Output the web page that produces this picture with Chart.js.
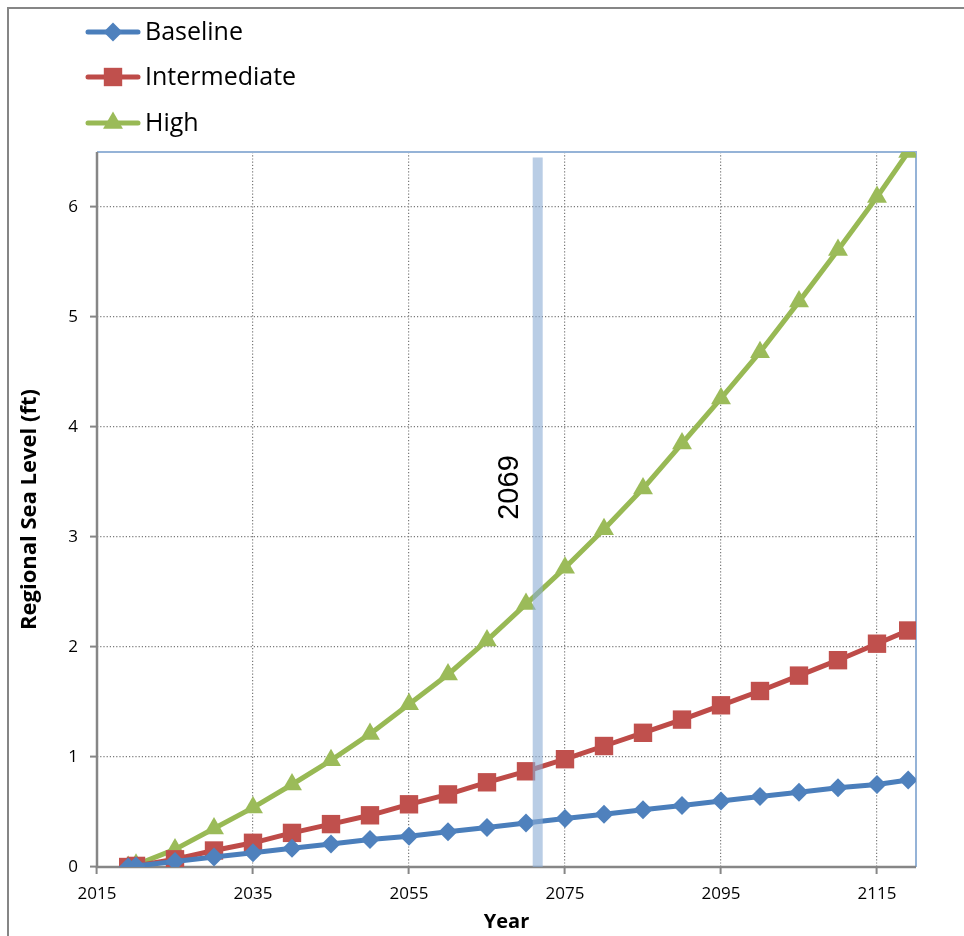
<!DOCTYPE html>
<html>
<head>
<meta charset="utf-8">
<script src="https://cdn.jsdelivr.net/npm/chart.js@4.4.1/dist/chart.umd.min.js"></script>
<style>
html,body{margin:0;padding:0;background:#fff;}
#wrap{position:relative;width:964px;height:936px;overflow:hidden;}
canvas{display:block;}
</style>
</head>
<body>
<div id="wrap"><canvas id="c" width="964" height="936"></canvas></div>
<script>
// ---- data ----
const years = [2019, 2020, 2025, 2030, 2035, 2040, 2045, 2050, 2055, 2060, 2065,
               2070, 2075, 2080, 2085, 2090, 2095, 2100, 2105, 2110, 2115, 2119];
const baselineValues = [0.00, 0.01, 0.05, 0.09, 0.13, 0.17, 0.21, 0.25, 0.28, 0.32, 0.36,
                        0.40, 0.44, 0.48, 0.52, 0.56, 0.60, 0.64, 0.68, 0.72, 0.75, 0.79];
const intermediateValues = [0.00, 0.01, 0.07, 0.15, 0.22, 0.31, 0.39, 0.47, 0.57, 0.66, 0.77,
                            0.87, 0.98, 1.10, 1.22, 1.34, 1.47, 1.60, 1.74, 1.88, 2.03, 2.15];
const highValues = [0.00, 0.02, 0.16, 0.35, 0.54, 0.75, 0.97, 1.21, 1.48, 1.75, 2.06,
                    2.39, 2.72, 3.07, 3.44, 3.85, 4.26, 4.68, 5.14, 5.61, 6.09, 6.50];
const seriesNames = ['Baseline', 'Intermediate', 'High'];
const xTickValues = [2015, 2035, 2055, 2075, 2095, 2115];
const yTickValues = [0, 1, 2, 3, 4, 5, 6];
const xRange = [2015, 2120];
const yRange = [0, 6.5];
const markerYear = 2071.5;
const markerTop = 6.45;
const markerLabel = '2069';
const markerLabelValue = 3.45;
const xTitle = 'Year';
const yTitle = 'Regional Sea Level (ft)';

// ---- styles ----
const lineColors = ['#4a7ebb', '#be4b48', '#98b954'];
const markColors = ['#4f81bd', '#c0504d', '#9bbb59'];
const markStyles = ['rectRot', 'rect', 'triangle'];
const markRadii = [9.5, 13, 11.5];
const FONT = "'Open Sans', 'Liberation Sans', sans-serif";

function toPoints(vals){ return years.map((x, i) => ({x: x, y: vals[i]})); }
const seriesValues = [baselineValues, intermediateValues, highValues];

const datasets = seriesValues.map((vals, i) => ({
  label: seriesNames[i],
  data: toPoints(vals),
  borderColor: lineColors[i],
  backgroundColor: markColors[i],
  borderWidth: 5,
  pointStyle: markStyles[i],
  pointRadius: markRadii[i],
  pointHoverRadius: markRadii[i],
  pointBackgroundColor: markColors[i],
  pointBorderColor: markColors[i],
  pointBorderWidth: 0,
  borderJoinStyle: 'round',
  borderCapStyle: 'round',
  tension: 0,
  fill: false
}));

function markerPath(ctx, style, x, y, r){
  ctx.beginPath();
  if (style === 'rect') {
    const s = Math.SQRT1_2 * r;
    ctx.rect(x - s, y - s, 2 * s, 2 * s);
  } else if (style === 'rectRot') {
    ctx.moveTo(x - r, y); ctx.lineTo(x, y - r); ctx.lineTo(x + r, y); ctx.lineTo(x, y + r);
    ctx.closePath();
  } else {
    const a = 2 * Math.PI / 3;
    ctx.moveTo(x, y - r);
    ctx.lineTo(x + Math.sin(a) * r, y - Math.cos(a) * r);
    ctx.lineTo(x + Math.sin(2 * a) * r, y - Math.cos(2 * a) * r);
    ctx.closePath();
  }
}

const decorPlugin = {
  id: 'decor',
  beforeDraw(chart){
    const ctx = chart.ctx;
    ctx.save();
    ctx.fillStyle = '#fff';
    ctx.fillRect(0, 0, chart.width, chart.height);
    ctx.strokeStyle = '#868686';
    ctx.lineWidth = 2;
    ctx.beginPath();
    ctx.moveTo(8, chart.height);
    ctx.lineTo(8, 8);
    ctx.lineTo(chart.width, 8);
    ctx.stroke();
    ctx.restore();
  },
  beforeDatasetsDraw(chart){
    const ctx = chart.ctx, a = chart.chartArea;
    ctx.save();
    ctx.setLineDash([]);
    ctx.strokeStyle = '#95b3d7';
    ctx.lineWidth = 2;
    ctx.beginPath();
    ctx.moveTo(a.left, a.top);
    ctx.lineTo(a.right, a.top);
    ctx.lineTo(a.right, a.bottom);
    ctx.stroke();
    ctx.strokeStyle = '#868686';
    ctx.lineWidth = 2.5;
    ctx.beginPath();
    ctx.moveTo(a.left, a.top);
    ctx.lineTo(a.left, a.bottom);
    ctx.lineTo(a.right, a.bottom);
    ctx.stroke();
    ctx.restore();
  },
  afterDatasetsDraw(chart){
    const ctx = chart.ctx, xs = chart.scales.x, ys = chart.scales.y;
    const bx = xs.getPixelForValue(markerYear);
    const top = ys.getPixelForValue(markerTop);
    const bottom = ys.getPixelForValue(yRange[0]);
    ctx.save();
    ctx.fillStyle = 'rgba(138,172,212,0.6)';
    ctx.fillRect(bx - 5, top, 10, bottom - top);
    ctx.translate(bx - 28, ys.getPixelForValue(markerLabelValue));
    ctx.rotate(-Math.PI / 2);
    ctx.fillStyle = '#000';
    ctx.font = "29px 'Liberation Sans', Arial, sans-serif";
    ctx.textAlign = 'center';
    ctx.textBaseline = 'middle';
    ctx.fillText(markerLabel, 0, 0);
    ctx.restore();

    // legend
    ctx.save();
    const rowY = [32, 77, 123];
    chart.data.datasets.forEach((ds, i) => {
      const y = rowY[i];
      ctx.strokeStyle = lineColors[i];
      ctx.lineWidth = 5;
      ctx.lineCap = 'round';
      ctx.beginPath();
      ctx.moveTo(88, y); ctx.lineTo(138, y);
      ctx.stroke();
      ctx.fillStyle = markColors[i];
      markerPath(ctx, markStyles[i], 113, y, markRadii[i]);
      ctx.fill();
      ctx.fillStyle = '#000';
      ctx.font = '25px ' + FONT;
      ctx.textAlign = 'left';
      ctx.textBaseline = 'middle';
      ctx.fillText(ds.label, 145, y + 1);
    });
    ctx.restore();
  }
};

const gridCommon = {
  color: '#7a7a7a',
  lineWidth: 1.2,
  tickLength: 7,
  tickColor: '#868686',
  tickWidth: 2,
  tickBorderDash: [],
  drawTicks: true
};
const borderCommon = { display: false, color: '#868686', width: 2.5, dash: [1.2, 2] };

new Chart(document.getElementById('c'), {
  type: 'line',
  data: { datasets: datasets },
  options: {
    responsive: false,
    animation: false,
    devicePixelRatio: 1,
    layout: { padding: { top: 152, right: 48, left: 0, bottom: 0 } },
    plugins: { legend: { display: false }, tooltip: { enabled: false } },
    scales: {
      x: {
        type: 'linear',
        min: xRange[0], max: xRange[1],
        afterBuildTicks(s){ s.ticks = xTickValues.map(v => ({value: v})); },
        afterFit(s){ s.height = 69; },
        ticks: { autoSkip: false, maxRotation: 0, padding: 10, color: '#000',
                 font: { family: FONT, size: 17 }, callback: v => String(v) },
        grid: gridCommon,
        border: borderCommon,
        title: { display: true, text: xTitle, color: '#000',
                 font: { family: FONT, size: 20, weight: 'bold' }, padding: { top: 0, bottom: 2 } }
      },
      y: {
        min: yRange[0], max: yRange[1],
        afterBuildTicks(s){ s.ticks = yTickValues.map(v => ({value: v})); },
        afterFit(s){ s.width = 97; },
        ticks: { padding: 12, color: '#000', font: { family: FONT, size: 17 }, callback: v => String(v) },
        grid: gridCommon,
        border: borderCommon,
        title: { display: true, text: yTitle, color: '#000',
                 font: { family: FONT, size: 22, weight: 'bold' }, padding: { top: 17, bottom: 0 } }
      }
    }
  },
  plugins: [decorPlugin]
});
</script>
</body>
</html>
